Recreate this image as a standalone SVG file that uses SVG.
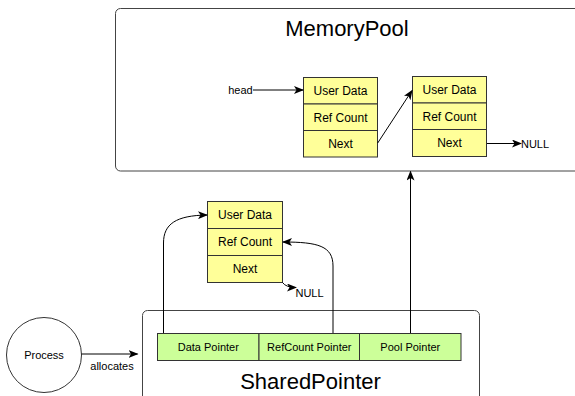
<svg xmlns="http://www.w3.org/2000/svg" width="575" height="396" viewBox="0 0 575 396">
<defs>
<marker id="arr" markerWidth="10" markerHeight="8" refX="9" refY="4" orient="auto" markerUnits="userSpaceOnUse">
<path d="M0,0 L10,4 L0,8 L2.5,4 Z" fill="#000"/>
</marker>
<style>
text{font-family:"Liberation Sans",Arial,sans-serif;fill:#000;text-anchor:middle;dominant-baseline:central}
.box{fill:#fff;stroke:#444;stroke-width:1}
.cell{fill:#ffff99;stroke:#333;stroke-width:1}
.ptr{fill:#ccff99;stroke:#333;stroke-width:1}
.c12{font-size:12px}
.c11{font-size:11px}
.title{font-size:22px;dominant-baseline:auto}
.conn{fill:none;stroke:#000;stroke-width:1;marker-end:url(#arr)}
</style>
</defs>
<rect width="575" height="396" fill="#fff"/>

<g id="memorypool">
<rect class="box" x="115.5" y="8.5" width="470" height="162.5" rx="5"/>
<text class="title" x="347" y="36">MemoryPool</text>
</g>

<g id="sharedpointer">
<rect class="box" x="142.5" y="310.5" width="337" height="100" rx="5"/>
<text class="title" x="310.5" y="389">SharedPointer</text>
</g>

<g id="node1">
<rect class="cell" x="303.5" y="77.5" width="74" height="26.5"/>
<rect class="cell" x="303.5" y="104" width="74" height="26.5"/>
<rect class="cell" x="303.5" y="130.5" width="74" height="26.5"/>
<text class="c12" x="340.5" y="91">User Data</text>
<text class="c12" x="340.5" y="117.5">Ref Count</text>
<text class="c12" x="340.5" y="144">Next</text>
</g>

<g id="node2">
<rect class="cell" x="412.5" y="76.5" width="74" height="26.5"/>
<rect class="cell" x="412.5" y="103" width="74" height="26.5"/>
<rect class="cell" x="412.5" y="129.5" width="74" height="27"/>
<text class="c12" x="449.5" y="90">User Data</text>
<text class="c12" x="449.5" y="116.5">Ref Count</text>
<text class="c12" x="449.5" y="143">Next</text>
</g>

<g id="node3">
<rect class="cell" x="207.5" y="201.5" width="75" height="27"/>
<rect class="cell" x="207.5" y="228.5" width="75" height="27"/>
<rect class="cell" x="207.5" y="255.5" width="75" height="27"/>
<text class="c12" x="245" y="215">User Data</text>
<text class="c12" x="245" y="242">Ref Count</text>
<text class="c12" x="245" y="269">Next</text>
</g>

<g id="pointers">
<rect class="ptr" x="157.5" y="333.5" width="101.5" height="27"/>
<rect class="ptr" x="259" y="333.5" width="100.5" height="27"/>
<rect class="ptr" x="359.5" y="333.5" width="101.5" height="27"/>
<text class="c11" x="208.3" y="347">Data Pointer</text>
<text class="c11" x="309.3" y="347">RefCount Pointer</text>
<text class="c11" x="410.3" y="347">Pool Pointer</text>
</g>

<g id="process">
<circle cx="44" cy="355" r="37.5" fill="#fff" stroke="#333" stroke-width="1"/>
<text class="c11" x="44" y="355">Process</text>
</g>

<g id="labels">
<text class="c11" x="240.5" y="90" style="text-anchor:middle">head</text>
<text class="c11" x="535" y="143.5">NULL</text>
<text class="c11" x="309.5" y="292.5">NULL</text>
<text class="c11" x="112" y="366">allocates</text>
</g>

<g id="connectors">
<path class="conn" d="M253,90 L303,90"/>
<path class="conn" d="M377.7,143 L412,90.5"/>
<path class="conn" d="M487,143.5 L521,143.5"/>
<path class="conn" d="M282.5,282.5 Q286,287.5 296,287.5"/>
<path class="conn" d="M163.5,333 L163.5,243 C163.5,224 176,215.5 207,215"/>
<path class="conn" d="M333,333 L333,266 C333,246 318,242 283,242"/>
<path class="conn" d="M410.5,333 L410.5,171.5"/>
<path class="conn" d="M81.5,354 L137.5,354"/>
</g>
</svg>
